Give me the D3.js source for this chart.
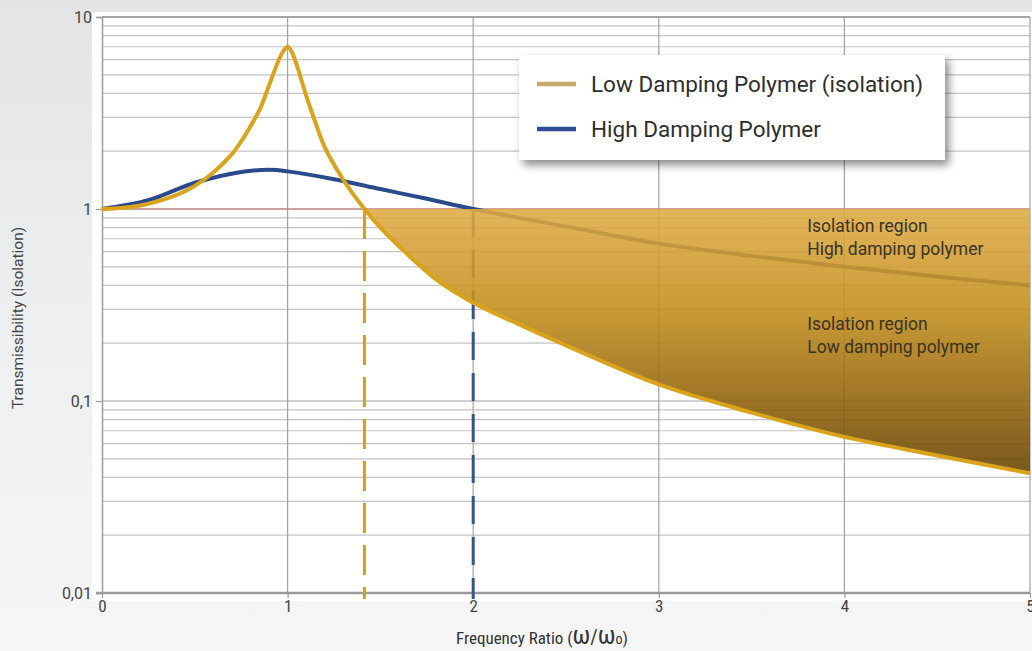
<!DOCTYPE html>
<html>
<head>
<meta charset="utf-8">
<script src="https://cdn.jsdelivr.net/npm/d3@7"></script>
<style>
  html, body { margin: 0; padding: 0; }
  body { width: 1032px; height: 651px; overflow: hidden; }
  svg { display: block; }
</style>
</head>
<body>
<svg id="fig" width="1032" height="651"></svg>
<script>
// values
const lowRatio  = [0, 0.2, 0.4, 0.5, 0.6, 0.7, 0.75, 0.8, 0.85, 0.9, 0.95, 0.975, 1.0, 1.025, 1.05, 1.1, 1.15, 1.2, 1.3, 1.414, 1.5, 1.6, 1.8, 2, 2.25, 2.5, 3, 3.5, 4, 4.5, 5];
const lowTrans  = [1.0, 1.04, 1.18, 1.32, 1.55, 1.93, 2.25, 2.7, 3.3, 4.4, 5.9, 6.6, 7.0, 6.5, 5.6, 3.9, 2.82, 2.1, 1.42, 1.0, 0.8, 0.64, 0.43, 0.325, 0.25, 0.195, 0.122, 0.087, 0.065, 0.052, 0.042];
const highRatio = [0, 0.25, 0.5, 0.75, 0.9, 1.0, 1.25, 1.5, 1.75, 2, 2.5, 3, 3.5, 4, 4.5, 5];
const highTrans = [1.0, 1.11, 1.37, 1.56, 1.60, 1.57, 1.43, 1.27, 1.13, 1.0, 0.81, 0.66, 0.57, 0.50, 0.445, 0.40];

const xTicks = [0, 1, 2, 3, 4, 5];
const yTicks = [10, 1, 0.1, 0.01];
const yTickLabels = ["10", "1", "0,1", "0,01"];

const seriesNames = ["Low Damping Polymer (isolation)", "High Damping Polymer"];
const crossLow = 1.414;   // low damping crosses T = 1
const crossHigh = 2;      // high damping crosses T = 1

const regionTexts = [
  ["Isolation region", "High damping polymer"],
  ["Isolation region", "Low damping polymer"]
];

const lowData = lowRatio.map((r, i) => ({r, t: lowTrans[i]}));
const highData = highRatio.map((r, i) => ({r, t: highTrans[i]}));

const svg = d3.select("#fig");
const W = 1032, H = 651;
const margin = {left: 102, top: 17, right: 2, bottom: 58};
const figW = W - margin.left - margin.right;
const figH = H - margin.top - margin.bottom;

const defs = svg.append("defs");

let bg = defs.append("linearGradient").attr("id", "bgGrad")
  .attr("x1", 0).attr("y1", 0).attr("x2", 0).attr("y2", 1);
bg.append("stop").attr("offset", "0%").attr("stop-color", "#e2e4e6");
bg.append("stop").attr("offset", "55%").attr("stop-color", "#eef0f1");
bg.append("stop").attr("offset", "100%").attr("stop-color", "#f6f6f6");

let fillGrad = defs.append("linearGradient").attr("id", "fillGrad")
  .attr("gradientUnits", "userSpaceOnUse")
  .attr("x1", 0).attr("x2", 0);

let shadow = defs.append("filter").attr("id", "shadow")
  .attr("x", "-10%").attr("y", "-20%").attr("width", "130%").attr("height", "150%");
shadow.append("feDropShadow")
  .attr("dx", 4).attr("dy", 5).attr("stdDeviation", 4)
  .attr("flood-color", "#000").attr("flood-opacity", 0.45);

svg.append("rect").attr("width", W).attr("height", H).attr("fill", "url(#bgGrad)");

// white chart background
svg.append("rect")
  .attr("x", margin.left - 10).attr("y", margin.top - 5)
  .attr("width", figW + 12).attr("height", figH + 13)
  .attr("fill", "#fff");

const g = svg.append("g").attr("transform", `translate(${margin.left},${margin.top})`);

const xScale = d3.scaleLinear().domain([0, 5]).range([0, figW]);
const yScale = d3.scaleLog().domain([0.01, 10]).range([figH, 0]);

fillGrad.attr("y1", yScale(1)).attr("y2", yScale(0.045));
fillGrad.append("stop").attr("offset", "0%").attr("stop-color", "#dfab43");
fillGrad.append("stop").attr("offset", "40%").attr("stop-color", "#c18c19");
fillGrad.append("stop").attr("offset", "75%").attr("stop-color", "#8e6008");
fillGrad.append("stop").attr("offset", "100%").attr("stop-color", "#694400");

// horizontal grid, every minor log step
const gridVals = [];
[0.01, 0.1, 1].forEach(d => { for (let k = 1; k <= 9; k++) gridVals.push(d * k); });
gridVals.push(10);

g.append("g").selectAll("line").data(gridVals).join("line")
  .attr("x1", 0).attr("x2", figW)
  .attr("y1", d => yScale(d)).attr("y2", d => yScale(d))
  .attr("stroke", d => yTicks.includes(+d.toPrecision(3)) ? "#a4a4a4" : "#c4c4c4")
  .attr("stroke-width", d => Math.abs(d - 10) < 1e-9 ? 2 : 1.2);

// vertical grid
g.append("g").selectAll("line").data(xTicks.slice(1)).join("line")
  .attr("x1", d => xScale(d)).attr("x2", d => xScale(d))
  .attr("y1", 0).attr("y2", figH)
  .attr("stroke", "#a2a2a2").attr("stroke-width", 1.2);

// reference line T = 1
g.append("line")
  .attr("x1", 0).attr("x2", figW)
  .attr("y1", yScale(1)).attr("y2", yScale(1))
  .attr("stroke", "#c97070").attr("stroke-width", 1);

// axes
const yAxis = g.append("g")
  .call(d3.axisLeft(yScale).tickValues(yTicks).tickFormat((d, i) => yTickLabels[i]).tickSize(6).tickPadding(4));
yAxis.select(".domain").attr("stroke", "#9a9a9a").attr("stroke-width", 1.5);
yAxis.selectAll(".tick line").attr("stroke", "#9a9a9a").attr("stroke-width", 1.2);
yAxis.selectAll("text")
  .attr("font-family", "Roboto, 'Open Sans', sans-serif").attr("font-size", 16)
  .attr("fill", "#444");

const xAxis = g.append("g").attr("transform", `translate(0,${figH})`)
  .call(d3.axisBottom(xScale).tickValues(xTicks).tickFormat(d3.format("d")).tickSize(5).tickPadding(2));
xAxis.select(".domain").attr("stroke", "#9a9a9a").attr("stroke-width", 2.5).attr("d", `M-6,0H${figW}`);
xAxis.selectAll(".tick line").attr("stroke", "#9a9a9a").attr("stroke-width", 1.2);
xAxis.selectAll("text")
  .attr("font-family", "'Liberation Sans Narrow', 'Roboto Condensed', Roboto, sans-serif").attr("font-size", 17)
  .attr("fill", "#444");

const line = d3.line()
  .x(d => xScale(d.r)).y(d => yScale(d.t))
  .curve(d3.curveCatmullRom.alpha(0.5));

const orange = "#d9a31c";
const blue = "#2b4a8b";

// dashed markers at the crossovers
const bottomY = figH + 6;
g.append("line")
  .attr("x1", xScale(crossLow)).attr("x2", xScale(crossLow))
  .attr("y1", yScale(1)).attr("y2", bottomY)
  .attr("stroke", "#d4a210").attr("stroke-width", 3)
  .attr("stroke-dasharray", "30 12");
g.append("line")
  .attr("x1", xScale(crossHigh)).attr("x2", xScale(crossHigh))
  .attr("y1", yScale(1)).attr("y2", bottomY)
  .attr("stroke", "#34558c").attr("stroke-width", 3)
  .attr("stroke-dasharray", "28 13");

// high damping curve
g.append("path").datum(highData)
  .attr("d", line)
  .attr("fill", "none").attr("stroke", blue).attr("stroke-width", 4);

// isolation region fill
const fillData = lowData.filter(d => d.r >= crossLow);
const area = d3.area()
  .x(d => xScale(d.r)).y0(yScale(1)).y1(d => yScale(d.t))
  .curve(d3.curveCatmullRom.alpha(0.5));
g.append("path").datum(fillData)
  .attr("d", area)
  .attr("fill", "url(#fillGrad)").attr("fill-opacity", 0.88);

// low damping curve
g.append("path").datum(lowData)
  .attr("d", line)
  .attr("fill", "none").attr("stroke", orange).attr("stroke-width", 4);

// region labels
const regionAt = [[3.8, 0.76], [3.8, 0.234]];
regionTexts.forEach((lines, i) => {
  const t = g.append("text")
    .attr("x", xScale(regionAt[i][0])).attr("y", yScale(regionAt[i][1]))
    .attr("font-family", "Roboto, 'Open Sans', sans-serif").attr("font-size", 17.5)
    .attr("fill", "#3a3222");
  lines.forEach((s, j) => {
    t.append("tspan").attr("x", xScale(regionAt[i][0])).attr("dy", j === 0 ? 0 : 23).text(s);
  });
});

// legend
const lg = svg.append("g").attr("transform", "translate(519,55)");
lg.append("rect").attr("width", 426).attr("height", 105)
  .attr("fill", "#fff").attr("filter", "url(#shadow)");
const legendColors = ["#c9a86b", "#2f4f95"];
seriesNames.forEach((name, i) => {
  const yy = 29 + i * 45;
  lg.append("line").attr("x1", 18).attr("x2", 57).attr("y1", yy).attr("y2", yy)
    .attr("stroke", legendColors[i]).attr("stroke-width", 4.5);
  lg.append("text").attr("x", 72).attr("y", yy + 8)
    .attr("font-family", "Roboto, 'Open Sans', sans-serif").attr("font-size", 22.5)
    .attr("fill", "#2e2e2e").text(name);
});

// axis titles
svg.append("text")
  .attr("transform", "translate(23,318) rotate(-90)")
  .attr("text-anchor", "middle")
  .attr("font-family", "Roboto, 'Open Sans', sans-serif").attr("font-size", 15.5)
  .attr("fill", "#444").text("Transmissibility (Isolation)");

const xt = svg.append("text")
  .attr("x", 542).attr("y", 644).attr("text-anchor", "middle")
  .attr("font-family", "'Liberation Sans Narrow', 'Roboto Condensed', Roboto, sans-serif")
  .attr("font-size", 17).attr("fill", "#333");
xt.append("tspan").text("Frequency Ratio (");
xt.append("tspan").attr("font-size", 25).text("ω");
xt.append("tspan").attr("font-size", 20).text("/");
xt.append("tspan").attr("font-size", 25).text("ω");
xt.append("tspan").attr("font-size", 14).text("o");
xt.append("tspan").text(")");
</script>
</body>
</html>
